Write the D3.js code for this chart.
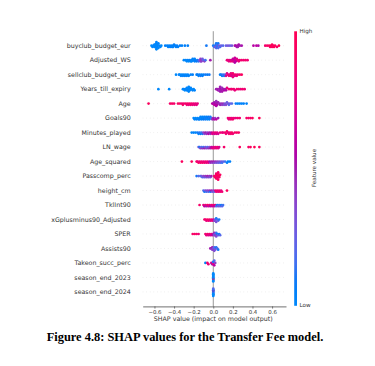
<!DOCTYPE html>
<html><head><meta charset="utf-8">
<script src="https://cdn.jsdelivr.net/npm/d3@7/dist/d3.min.js"></script>
<style>body{margin:0;background:#fff}svg{display:block}</style>
</head><body><svg id="c" width="375" height="366"></svg>
<script>
const features = ["buyclub_budget_eur","Adjusted_WS","sellclub_budget_eur","Years_till_expiry","Age","Goals90","Minutes_played","LN_wage","Age_squared","Passcomp_perc","height_cm","TklInt90","xGplusminus90_Adjusted","SPER","Assists90","Takeon_succ_perc","season_end_2023","season_end_2024"];
const xTicks = [-0.6,-0.4,-0.2,0.0,0.2,0.4,0.6];
const xLabel = "SHAP value (impact on model output)";
const colorbarLabels = ["High","Low","Feature value"];
const caption = "Figure 4.8: SHAP values for the Transfer Fee model.";

// per-feature points: [shap value, normalized feature value (0 = low, 1 = high)]
const buyclubBudget = [[-0.63,0],[-0.62,0],[-0.61,0.02],[-0.60,0],[-0.60,0.03],[-0.59,0],[-0.59,0.02],[-0.59,0],[-0.58,0],[-0.58,0.03],[-0.58,0],[-0.58,0.02],[-0.57,0],[-0.57,0.04],[-0.57,0],[-0.56,0],[-0.56,0.03],[-0.55,0],[-0.54,0.02],[-0.53,0],
 [-0.49,0.05],[-0.47,0.04],[-0.46,0.05],[-0.45,0.03],[-0.44,0.05],[-0.43,0.05],[-0.42,0.04],[-0.41,0.05],[-0.41,0.05],[-0.40,0.06],[-0.39,0.05],[-0.38,0.05],[-0.37,0.06],[-0.36,0.05],[-0.34,0.06],[-0.32,0.05],[-0.29,0.06],[-0.26,0.06],
 [-0.07,0.1],[0.00,0.1],[0.01,0.15],[0.02,0.1],[0.02,0.3],[0.03,0.12],[0.03,0.2],[0.03,0.1],[0.04,0.35],[0.04,0.12],[0.04,0.15],[0.05,0.2],[0.05,0.1],[0.06,0.3],[0.07,0.15],[0.08,0.25],[0.10,0.2],
 [0.13,0.25],[0.15,0.3],[0.17,0.25],[0.19,0.3],[0.22,0.5],[0.23,0.55],[0.24,0.5],[0.25,0.52],[0.25,0.5],[0.26,0.55],[0.27,0.5],[0.29,0.52],
 [0.41,0.58],[0.44,0.6],[0.46,0.55],[0.53,0.88],[0.55,0.92],[0.57,0.95],[0.58,0.9],[0.59,1],[0.60,0.95],[0.60,0.98],[0.61,0.92],[0.62,1],[0.63,0.95],[0.65,0.9],[0.67,1]];
const adjustedWS = [[-0.30,0],[-0.28,0.02],[-0.27,0],[-0.26,0.03],[-0.25,0],[-0.24,0.05],[-0.23,0],[-0.22,0.04],[-0.22,0],[-0.21,0.05],[-0.20,0.02],[-0.19,0.06],[-0.19,0.03],[-0.18,0.05],[-0.17,0.08],[-0.16,0.1],[-0.15,0.12],[-0.14,0.3],[-0.13,0.35],[-0.13,0.4],[-0.12,0.45],[-0.12,0.4],[-0.11,0.3],[-0.10,0.2],[-0.09,0.4],[-0.08,0.15],[-0.03,0.5],
 [0.14,0.8],[0.15,0.85],[0.16,0.8],[0.17,0.75],[0.18,0.85],[0.19,0.7],[0.20,0.8],[0.20,0.65],[0.21,0.6],[0.21,0.75],[0.22,0.6],[0.22,0.55],[0.22,0.65],[0.23,0.7],[0.23,0.6],[0.24,0.75],[0.25,0.8],[0.26,0.85],[0.27,0.8],[0.29,0.9],[0.31,0.85],[0.33,0.9],[0.35,0.85]];
const sellclubBudget = [[-0.38,0],[-0.35,0.05],[-0.34,0],[-0.33,0.04],[-0.32,0],[-0.31,0.05],[-0.30,0.02],[-0.29,0.06],[-0.28,0],[-0.27,0.04],[-0.26,0.02],[-0.25,0.05],[-0.23,0.03],[-0.21,0.06],[-0.17,0.05],[-0.16,0.08],[-0.15,0.04],[-0.14,0.06],[-0.13,0.1],[-0.12,0.05],[-0.11,0.08],[-0.10,0.05],[-0.08,0.1],[-0.06,0.08],[-0.04,0.1],
 [0.07,0.05],[0.08,0.1],[0.09,0.08],[0.10,0.15],[0.11,0.1],[0.12,0.2],[0.13,0.7],[0.14,0.75],[0.15,0.8],[0.16,0.85],[0.17,0.75],[0.18,0.9],[0.18,0.8],[0.19,0.85],[0.19,0.7],[0.20,0.9],[0.20,0.8],[0.21,0.85],[0.22,0.75],[0.23,0.9],[0.24,0.85],[0.25,0.8],[0.27,0.9],[0.29,0.95]];
const yearsTillExpiry = [[-0.56,0],[-0.45,0],[-0.31,0],[-0.30,0.02],[-0.29,0],[-0.28,0.03],[-0.27,0],[-0.27,0.02],[-0.26,0],[-0.26,0.03],[-0.25,0],[-0.25,0.02],[-0.25,0],[-0.24,0.03],[-0.24,0],[-0.23,0.02],[-0.22,0],[-0.21,0.03],[-0.20,0],[-0.19,0.02],
 [0.03,0.5],[0.04,0.48],[0.05,0.55],[0.06,0.5],[0.06,0.45],[0.07,0.52],[0.07,0.5],[0.07,0.48],[0.08,0.55],[0.08,0.5],[0.09,0.45],[0.09,0.52],[0.10,0.5],[0.11,0.55],[0.12,0.5],[0.13,0.55],
 [0.14,0.8],[0.16,0.85],[0.18,0.8],[0.19,0.9],[0.21,0.85],[0.22,0.8],[0.24,0.9],[0.26,0.85],[0.28,0.8],[0.30,0.9],[0.32,0.85]];
const age = [[-0.66,0.95],[-0.44,0.9],[-0.42,0.92],[-0.40,0.9],[-0.36,0.95],[-0.34,0.9],[-0.32,0.85],[-0.31,0.92],[-0.30,0.88],[-0.28,0.9],[-0.27,0.85],[-0.26,0.92],[-0.25,0.8],[-0.24,0.9],[-0.23,0.85],[-0.22,0.88],[-0.21,0.8],[-0.20,0.85],[-0.19,0.8],[-0.18,0.82],[-0.17,0.78],[-0.16,0.8],
 [-0.01,0.6],[0.00,0.55],[0.01,0.6],[0.01,0.5],[0.02,0.55],[0.02,0.6],[0.03,0.5],[0.03,0.55],[0.03,0.45],[0.04,0.5],[0.04,0.55],[0.05,0.5],[0.06,0.45],[0.07,0.5],[0.08,0.45],[0.09,0.4],[0.10,0.45],
 [0.11,0.35],[0.12,0.3],[0.13,0.35],[0.14,0.25],[0.15,0.3],[0.16,0.2],[0.17,0.25],[0.19,0.2],[0.23,0.05],[0.25,0.03],[0.27,0.05],[0.29,0.02],[0.31,0.05],[0.34,0.03]];
const goals90 = [[-0.20,0],[-0.19,0.02],[-0.18,0],[-0.17,0.05],[-0.16,0],[-0.15,0.03],[-0.14,0],[-0.14,0.05],[-0.13,0.02],[-0.12,0],[-0.12,0.06],[-0.11,0.03],[-0.10,0],[-0.10,0.08],[-0.09,0.05],[-0.08,0],[-0.08,0.1],[-0.07,0.05],[-0.06,0.1],[-0.06,0.02],[-0.05,0.08],[-0.04,0.12],[-0.04,0.05],[-0.03,0.1],[-0.02,0.15],
 [-0.01,0.45],[0.00,0.5],[0.01,0.55],[0.02,0.4],[0.03,0.6],[0.05,0.5],
 [0.15,0.85],[0.16,0.8],[0.17,0.9],[0.18,0.85],[0.19,0.8],[0.20,0.9],[0.21,0.85],[0.23,0.8],[0.25,0.9],[0.27,0.85],[0.34,0.9],[0.36,0.92],[0.38,0.9],[0.40,0.95],[0.47,1]];
const minutesPlayed = [[-0.22,0],[-0.20,0.05],[-0.18,0],[-0.16,0.1],[-0.15,0.05],[-0.14,0.12],[-0.13,0.08],[-0.12,0.15],[-0.11,0.1],
 [-0.10,0.4],[-0.09,0.35],[-0.08,0.5],[-0.07,0.45],[-0.06,0.4],[-0.05,0.55],[-0.04,0.5],[-0.03,0.45],[-0.02,0.55],
 [-0.01,0.75],[0.00,0.8],[0.01,0.7],[0.02,0.85],[0.03,0.75],[0.04,0.8],[0.05,0.7],[0.07,0.85],
 [0.09,0.85],[0.10,0.8],[0.12,0.9],[0.13,0.85],[0.14,0.95],[0.15,0.8],[0.16,0.9],[0.17,0.85],[0.18,0.9],[0.19,0.95],[0.20,0.85],[0.22,0.9],[0.24,0.95],[0.26,0.9]];
const lnWage = [[-0.15,0.3],[-0.14,0.1],[-0.13,0.4],[-0.12,0.2],[-0.11,0.45],[-0.10,0.15],[-0.09,0.5],[-0.08,0.3],[-0.07,0.4],[-0.06,0.2],[-0.05,0.45],[-0.04,0.35],[-0.03,0.5],
 [-0.02,0.6],[-0.01,0.75],[0.00,0.7],[0.01,0.85],[0.02,0.8],[0.03,0.75],[0.04,0.85],[0.05,0.8],[0.06,0.7],
 [0.11,0.9],[0.27,0.95],[0.36,0.92],[0.38,0.95],[0.42,1],[0.47,0.95]];
const ageSquared = [[-0.32,0.95],[-0.22,0.95],[-0.17,0.9],[-0.16,0.85],[-0.15,0.95],[-0.14,0.8],[-0.13,0.9],[-0.12,0.85],[-0.11,0.9],[-0.10,0.8],[-0.09,0.88],[-0.08,0.85],[-0.07,0.8],[-0.06,0.85],[-0.05,0.8],
 [-0.04,0.55],[-0.03,0.45],[-0.02,0.5],[-0.01,0.4],[0.00,0.5],[0.01,0.35],[0.02,0.45],[0.03,0.3],[0.04,0.4],[0.05,0.25],[0.06,0.35],[0.07,0.2],[0.08,0.3],[0.09,0.15],[0.10,0.25],[0.12,0.15],
 [0.14,0.05],[0.15,0.03],[0.17,0.05]];
const passcompPerc = [[-0.17,0.1],[-0.15,0.2],[-0.13,0.15],[-0.12,0.3],[-0.11,0.2],[-0.10,0.4],[-0.09,0.25],[-0.08,0.45],[-0.07,0.3],[-0.06,0.5],[-0.05,0.35],[-0.04,0.45],[-0.03,0.3],[-0.02,0.5],
 [0.01,0.9],[0.02,0.85],[0.02,0.95],[0.03,0.9],[0.03,1],[0.03,0.88],[0.04,0.95],[0.04,0.9],[0.04,1],[0.04,0.85],[0.05,0.92],[0.05,0.95],[0.05,0.9],[0.06,1],[0.06,0.9],[0.07,0.95]];
const heightCm = [[-0.10,0.2],[-0.09,0.1],[-0.08,0.35],[-0.07,0.15],[-0.06,0.4],[-0.05,0.2],[-0.04,0.45],[-0.03,0.1],[-0.02,0.5],[-0.01,0.3],[0.00,0.4],[0.01,0.25],
 [0.02,0.8],[0.03,0.85],[0.04,0.9],[0.05,0.8],[0.06,0.85],[0.07,0.9],[0.08,0.8],[0.09,0.85],[0.14,0.95]];
const tklInt90 = [[-0.14,0.9],[-0.10,0.8],[-0.09,0.6],[-0.08,0.85],[-0.07,0.5],[-0.06,0.9],[-0.05,0.7],[-0.04,0.85],[-0.03,0.55],[-0.02,0.8],[-0.01,0.65],[0.00,0.9],[0.01,0.6],[0.02,0.75],
 [0.03,0.2],[0.04,0.1],[0.05,0.3],[0.06,0.15],[0.07,0.25],[0.08,0.1],[0.09,0.2],[0.10,0.15]];
const xGplusminus90 = [[-0.09,0.85],[-0.08,0.9],[-0.07,0.8],[-0.06,0.95],[-0.05,0.85],[-0.04,0.9],[-0.03,0.75],[-0.02,0.85],[-0.01,0.8],[0.00,0.7],
 [0.01,0.4],[0.02,0.2],[0.02,0.35],[0.03,0.1],[0.03,0.3],[0.04,0.15],[0.05,0.25],[0.06,0.1]];
const sper = [[-0.21,0.9],[-0.19,0.95],[-0.17,0.9],[-0.15,0.85],
 [-0.08,0.85],[-0.07,0.8],[-0.06,0.9],[-0.05,0.75],[-0.04,0.85],[-0.03,0.7],[-0.02,0.8],[-0.01,0.65],
 [0.00,0.5],[0.01,0.3],[0.01,0.45],[0.02,0.2],[0.02,0.4],[0.03,0.15],[0.03,0.35],[0.04,0.1],[0.05,0.25],[0.06,0.1],[0.07,0.2]];
const assists90 = [[-0.03,0.5],[-0.02,0.45],[-0.01,0.35],[-0.01,0.5],[0.00,0.3],[0.00,0.4],[0.01,0.2],[0.01,0.35],[0.02,0.15],[0.02,0.3],[0.03,0.1],[0.04,0.2],[0.05,0.1]];
const takeonSuccPerc = [[-0.08,0.05],[-0.06,0.9],[-0.05,0.85],[-0.02,0.7],[-0.01,0.5],[0.00,0.3],[0.00,0.8],[0.00,0.1],[0.01,0.6],[0.01,0.2],[0.02,0.4]];
const seasonEnd2023 = [[0,0],[0,0],[0,0],[0,0],[0,0],[0,1],[0,0],[0,0],[0,0],[0,0],[0,0]];
const seasonEnd2024 = [[0,0],[0,0.3],[0,0],[0,0],[0,0.5],[0,0],[0,0],[0,0],[0,0.2],[0,0]];

const rows = [buyclubBudget, adjustedWS, sellclubBudget, yearsTillExpiry, age, goals90, minutesPlayed, lnWage, ageSquared, passcompPerc, heightCm, tklInt90, xGplusminus90, sper, assists90, takeonSuccPerc, seasonEnd2023, seasonEnd2024];

// SHAP red_blue colormap (LCh interpolation, lightness dips mid-way)
function shapColor(t){
  const L = t < 0.5 ? 54 - 28*t : 40 + 28*(t-0.5);
  const C = 70 + 20*t;
  const H = 267 + 113*t;
  return d3.hcl(H % 360, C, L).formatHex();
}

const svg = d3.select("#c");
const x = d3.scaleLinear().domain([-0.72, 0.742]).range([142.7, 286]);
const y = d3.scaleLinear().domain([-1, features.length]).range([31.2, 306.4]);

// dashed row guides
svg.append("g").selectAll("line").data(features).join("line")
  .attr("x1", x.range()[0]).attr("x2", x.range()[1])
  .attr("y1", (d,i)=>y(i)).attr("y2", (d,i)=>y(i))
  .attr("stroke", "#cccccc").attr("stroke-width", 0.5).attr("stroke-dasharray", "0.6 3");

// zero line
svg.append("line").attr("x1", x(0)).attr("x2", x(0)).attr("y1", y(-1)).attr("y2", y(features.length))
  .attr("stroke", "#999999").attr("stroke-width", 1);

// beeswarm points
const binW = 2.0, maxHalf = 4;
const pts = [];
rows.forEach((row, i) => {
  const items = row.map(([v, f]) => ({v, f, px: x(v)}));
  items.forEach(d => d.bin = Math.round(d.px / binW));
  const sorted = items.slice().sort((a,b)=>a.bin-b.bin);
  let layer = 0, last = null, maxL = 0;
  sorted.forEach(d => {
    if (d.bin !== last) layer = 0;
    d.layer = Math.ceil(layer/2) * ((layer % 2) * 2 - 1);
    maxL = Math.max(maxL, Math.abs(d.layer));
    layer++; last = d.bin;
  });
  const step = Math.min(1.2, maxHalf / Math.max(1, maxL));
  items.forEach(d => { d.cy = y(i) + d.layer * step; pts.push(d); });
});
svg.append("g").selectAll("circle").data(pts).join("circle")
  .attr("cx", d=>d.px).attr("cy", d=>d.cy).attr("r", 1.35)
  .attr("fill", d=>shapColor(d.f));

// feature labels
svg.append("g").selectAll("text").data(features).join("text")
  .attr("x", 130.7).attr("y", (d,i)=>y(i)).attr("dy", "0.35em")
  .attr("text-anchor", "end").attr("font-family", "DejaVu Sans").attr("font-size", 6.3)
  .attr("fill", "#333").text(d=>d);

// x axis
const ax = svg.append("g").attr("transform", `translate(0,${y(features.length)})`)
  .call(d3.axisBottom(x).tickValues(xTicks).tickSize(2.2).tickPadding(1.5).tickFormat(d3.format(".1f")).tickSizeOuter(0));
ax.select(".domain").attr("stroke", "#333").attr("stroke-width", 0.7);
ax.selectAll(".tick line").attr("stroke", "#333").attr("stroke-width", 0.6);
ax.selectAll(".tick text").attr("font-family", "DejaVu Sans").attr("font-size", 5.4).attr("fill", "#333");
svg.append("text").attr("x", x(0)).attr("y", 319).attr("dy", "0.35em").attr("text-anchor", "middle")
  .attr("font-family", "DejaVu Sans").attr("font-size", 6.3).attr("fill", "#333").text(xLabel);

// colorbar
const defs = svg.append("defs");
const grad = defs.append("linearGradient").attr("id", "cb").attr("x1", 0).attr("x2", 0).attr("y1", 1).attr("y2", 0);
d3.range(0, 1.0001, 0.05).forEach(t => grad.append("stop").attr("offset", t).attr("stop-color", shapColor(t)));
svg.append("rect").attr("x", 294.2).attr("y", 31.3).attr("width", 2.8).attr("height", 274.5).attr("fill", "url(#cb)");
svg.append("text").attr("x", 299.5).attr("y", 31.3).attr("dy", "0.35em").attr("font-family", "DejaVu Sans").attr("font-size", 5.6).attr("fill", "#333").text(colorbarLabels[0]);
svg.append("text").attr("x", 299.5).attr("y", 305.5).attr("dy", "0.35em").attr("font-family", "DejaVu Sans").attr("font-size", 5.6).attr("fill", "#333").text(colorbarLabels[1]);
svg.append("text").attr("transform", "translate(314.5,168) rotate(-90)").attr("text-anchor", "middle").attr("dy", "0.35em")
  .attr("font-family", "DejaVu Sans").attr("font-size", 5.6).attr("fill", "#333").text(colorbarLabels[2]);

// caption
const cap = svg.append("text").attr("x", 46.7).attr("y", 340.5).attr("font-family", "Liberation Serif").attr("font-weight", "bold")
  .attr("font-size", 13).attr("fill", "#000").text(caption);
const w = cap.node().getComputedTextLength();
cap.attr("font-size", 13 * 277 / w);
</script></body></html>
